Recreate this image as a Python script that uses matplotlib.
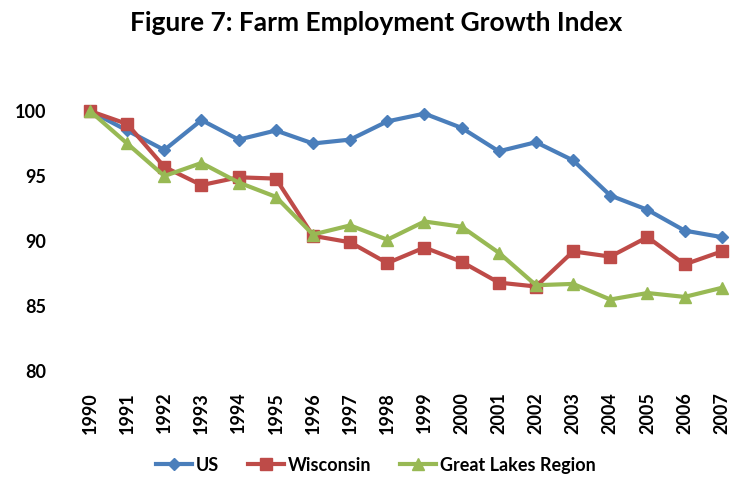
import matplotlib.pyplot as plt

years = [str(y) for y in range(1990, 2008)]
us = [100, 98.5, 97.0, 99.3, 97.8, 98.5, 97.5, 97.8, 99.2, 99.8,
      98.7, 96.9, 97.6, 96.2, 93.5, 92.4, 90.8, 90.3]
wisconsin = [100, 99.0, 95.7, 94.3, 94.9, 94.8, 90.4, 89.9, 88.3, 89.5,
             88.4, 86.8, 86.5, 89.2, 88.8, 90.3, 88.2, 89.2]
great_lakes = [100, 97.5, 95.0, 96.0, 94.5, 93.4, 90.5, 91.2, 90.1, 91.5,
               91.1, 89.1, 86.6, 86.7, 85.5, 86.0, 85.7, 86.4]

plt.rcParams['font.family'] = ['Lato', 'DejaVu Sans']
plt.rcParams['font.weight'] = 'bold'

fig = plt.figure(figsize=(7.4, 4.78), dpi=100)
ax = fig.add_axes([0.0965, 0.2238, 0.904, 0.544])

x = range(len(years))
ax.plot(x, us, color='#4A7EBB', lw=3, marker='D', ms=6, label='US', clip_on=False)
ax.plot(x, wisconsin, color='#BE4B48', lw=3, marker='s', ms=9, label='Wisconsin', clip_on=False)
ax.plot(x, great_lakes, color='#98B954', lw=3, marker='^', ms=9, label='Great Lakes Region', clip_on=False)

ax.set_xlim(-0.5, len(years) - 0.5)
ax.set_ylim(80, 100)
ax.set_yticks([80, 85, 90, 95, 100])
ax.set_xticks(list(x))
ax.set_xticklabels(years, rotation=90)
ax.tick_params(axis='both', length=0, labelsize=13)
ax.tick_params(axis='y', pad=18)
ax.tick_params(axis='x', pad=15)
for s in ax.spines.values():
    s.set_visible(False)

fig.text(0.508, 0.952, 'Figure 7: Farm Employment Growth Index', ha='center', va='center',
         fontsize=19, fontweight='bold')
fig.legend(loc='center', bbox_to_anchor=(0.508, 0.027), ncol=3, frameon=False,
           fontsize=13, handlelength=2.0, handletextpad=0.2, columnspacing=1.6)

fig.savefig('out.png', dpi=100)
